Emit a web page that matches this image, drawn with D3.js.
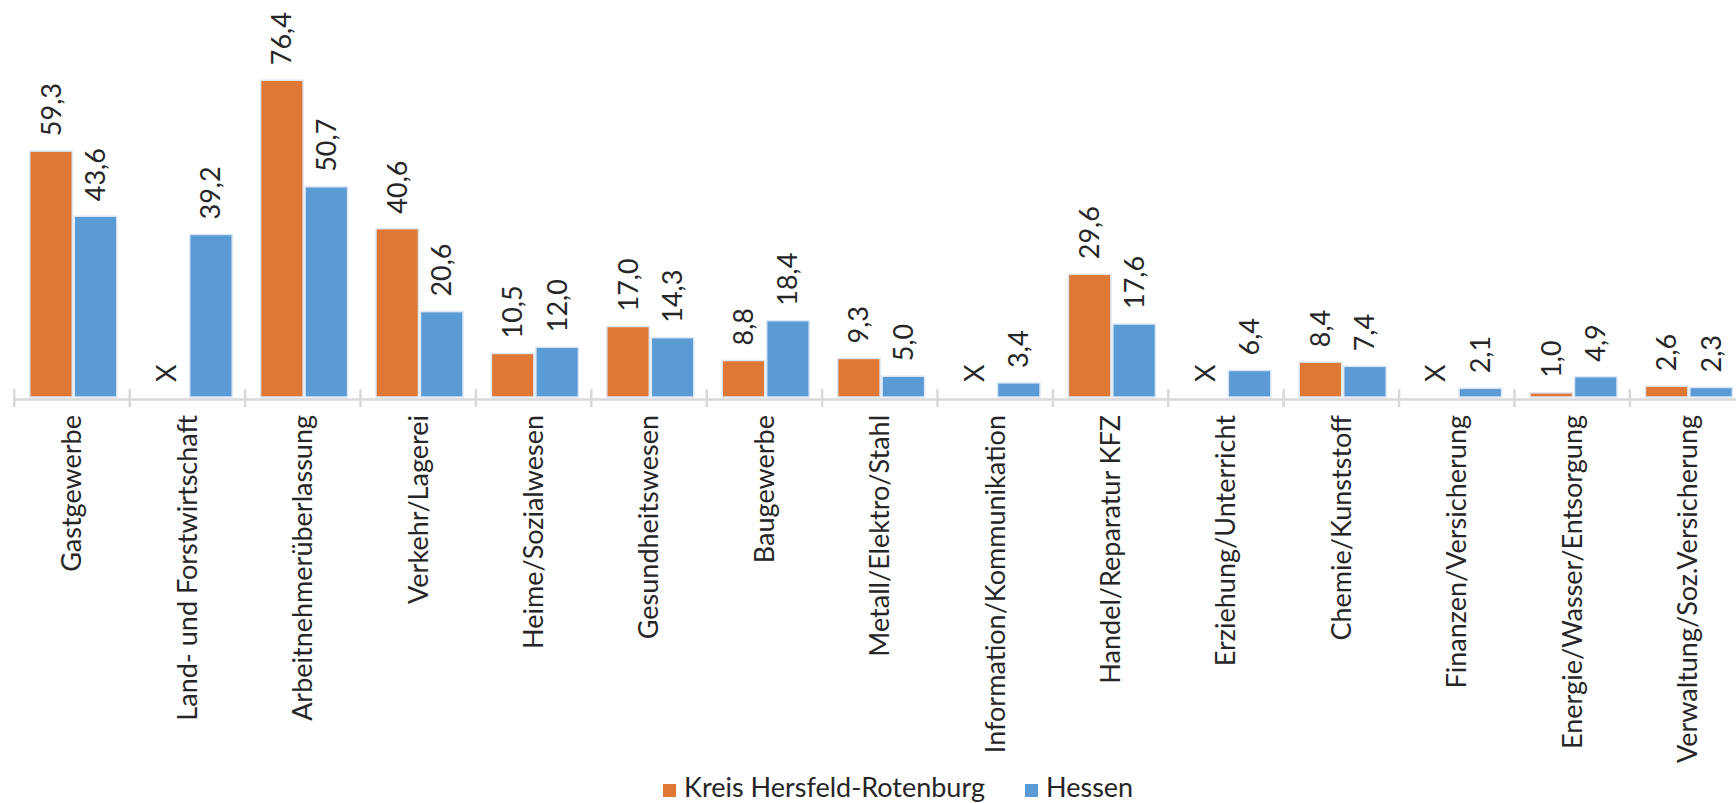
<!DOCTYPE html>
<html>
<head>
<meta charset="utf-8">
<script src="https://cdn.jsdelivr.net/npm/d3@7"></script>
<style>
    body { margin: 0; background: #fff; }
    text { font-family: Lato, "Open Sans", sans-serif; fill: #262626; }
</style>
</head>
<body>
<div id="chart"></div>
<script>
// ===============================
// Données
// ===============================
const branches = [
    "Gastgewerbe", "Land- und Forstwirtschaft", "Arbeitnehmerüberlassung", "Verkehr/Lagerei",
    "Heime/Sozialwesen", "Gesundheitswesen", "Baugewerbe", "Metall/Elektro/Stahl",
    "Information/Kommunikation", "Handel/Reparatur KFZ", "Erziehung/Unterricht",
    "Chemie/Kunststoff", "Finanzen/Versicherung", "Energie/Wasser/Entsorgung",
    "Verwaltung/Soz.Versicherung"
];
const series = ["Kreis Hersfeld-Rotenburg", "Hessen"];
// null = "X" (keine Angabe)
const kreisWerte = [59.3, null, 76.4, 40.6, 10.5, 17.0, 8.8, 9.3, null, 29.6, null, 8.4, null, 1.0, 2.6];
const hessenWerte = [43.6, 39.2, 50.7, 20.6, 12.0, 14.3, 18.4, 5.0, 3.4, 17.6, 6.4, 7.4, 2.1, 4.9, 2.3];
const couleurs = ["#df7735", "#5b9bd5"];

// ===============================
// Dimensions
// ===============================
const largeur = 1736, hauteur = 803;
const basAxe = 397;
const taillePolice = 27;

const svg = d3.select("#chart").append("svg")
    .attr("width", largeur).attr("height", hauteur);

const x = d3.scaleBand().domain(branches).range([14.3, 14.3 + 15 * 115.4]);
const xSerie = d3.scaleBand().domain(series).range([15.5, 102.5]).paddingInner(0.045);
const y = d3.scaleLinear().domain([0, 80]).range([basAxe, basAxe - 80 * 4.146]);

// ===============================
// Barres
// ===============================
const donnees = branches.map((b, i) => ({
    branche: b,
    valeurs: [kreisWerte[i], hessenWerte[i]]
}));

const groupes = svg.selectAll("g.groupe")
    .data(donnees).enter().append("g")
    .attr("class", "groupe")
    .attr("transform", d => `translate(${x(d.branche)},0)`);

groupes.selectAll("rect")
    .data(d => d.valeurs.map((v, j) => ({ v: v, serie: series[j], j: j })).filter(e => e.v !== null))
    .enter().append("rect")
    .attr("x", e => xSerie(e.serie))
    .attr("y", e => y(e.v))
    .attr("width", xSerie.bandwidth())
    .attr("height", e => y(0) - y(e.v))
    .attr("fill", e => couleurs[e.j])
    .attr("stroke", "#dbe7f5")
    .attr("stroke-width", 1.5);

// Étiquettes de valeurs (verticales)
groupes.selectAll("text.valeur")
    .data(d => d.valeurs.map((v, j) => ({ v: v, serie: series[j] })))
    .enter().append("text")
    .attr("class", "valeur")
    .attr("transform", e => `translate(${xSerie(e.serie) + xSerie.bandwidth() / 2},${y(e.v === null ? 0 : e.v) - 15}) rotate(-90)`)
    .attr("dy", "0.35em")
    .style("font-size", taillePolice + "px")
    .text(e => e.v === null ? "X" : d3.format(".1f")(e.v).replace(".", ","));

// ===============================
// Axe des abscisses
// ===============================
const axeX = svg.append("g")
    .attr("transform", `translate(0,${basAxe + 2})`)
    .call(d3.axisBottom(x).tickSize(0).tickPadding(0));

axeX.select(".domain").attr("stroke", "#d9d9d9").attr("stroke-width", 2.5);
axeX.selectAll(".tick text")
    .attr("transform", "translate(0,16) rotate(-90)")
    .attr("text-anchor", "end")
    .attr("x", 0).attr("y", 0)
    .attr("dy", "0.35em")
    .style("font-size", taillePolice + "px")
    .style("font-family", "Lato, 'Open Sans', sans-serif")
    .attr("fill", "#262626");

// Graduations aux limites des catégories
const limites = branches.map(b => x(b)).concat([x(branches[branches.length - 1]) + x.step()]);
svg.append("g").selectAll("line")
    .data(limites).enter().append("line")
    .attr("x1", d => d).attr("x2", d => d)
    .attr("y1", basAxe - 8).attr("y2", basAxe + 10)
    .attr("stroke", "#d9d9d9").attr("stroke-width", 2.5);

// ===============================
// Légende
// ===============================
const legende = svg.append("g");
const posLegende = [663, 1025];
series.forEach((s, i) => {
    legende.append("rect")
        .attr("x", posLegende[i]).attr("y", 784)
        .attr("width", 13).attr("height", 13)
        .attr("fill", couleurs[i]);
    legende.append("text")
        .attr("x", posLegende[i] + 21).attr("y", 797)
        .style("font-size", taillePolice + "px")
        .text(s);
});
</script>
</body>
</html>
